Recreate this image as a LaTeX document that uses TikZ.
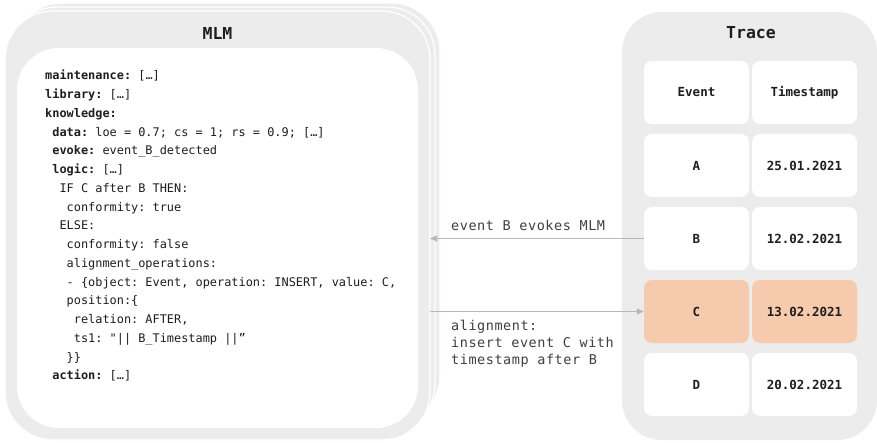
\documentclass[tikz,border=0pt]{standalone}
\usepackage{fontspec}
\usetikzlibrary{arrows.meta}
\newfontfamily\monofont{DejaVu Sans Mono}
\newfontfamily\lblfont[LetterSpace=4]{DejaVu Sans Mono}
\definecolor{boxgray}{HTML}{EBECEB}
\definecolor{cellorange}{HTML}{F6CBAD}
\definecolor{txt}{HTML}{1E1E1E}
\definecolor{arrgray}{HTML}{B8B8B8}
\newcommand\pind[1]{\hspace*{\dimexpr0.602em*#1\relax}}
\frenchspacing
\tikzset{
  stackbox/.style={fill=boxgray, draw=white, line width=1.3pt, rounded corners=48pt},
  cell/.style={fill=white, rounded corners=8pt, minimum width=105pt, minimum height=63pt, inner sep=0pt,
    font=\fontsize{12.5}{14}\selectfont\monofont\bfseries, text=txt},
  hlcell/.style={cell, fill=cellorange},
  title/.style={font=\fontsize{16.5}{18}\selectfont\monofont\bfseries, text=txt, inner sep=0pt},
  arr/.style={draw=arrgray, line width=1.1pt, -{Triangle[length=7pt,width=6pt]}},
  lbl/.style={font=\fontsize{13.5}{17}\selectfont\lblfont\frenchspacing, text=txt!85, inner sep=0pt, align=left}
}
\begin{document}
\begin{tikzpicture}[x=1pt,y=-1pt]
\fill[white] (0,0) rectangle (877,443);
\useasboundingbox (0,0) rectangle (877,443);
% MLM stack
\draw[stackbox] (13,3) rectangle (440,424);
\draw[stackbox] (9,7) rectangle (435,432);
\draw[stackbox] (5,11) rectangle (430,440);
\fill[white, rounded corners=42pt] (17,48) rectangle (418,428);
\node[title] (mlmtitle) at (217.5,33) {MLM};
\node[anchor=north west, inner sep=0pt, align=left, text=txt,
      font=\fontsize{11.9}{18.75}\selectfont\monofont\frenchspacing] (mlmtext) at (45,70) {%
\textbf{maintenance:} […]\\
\textbf{library:} […]\\
\textbf{knowledge:}\\
\pind1\textbf{data:} loe = 0.7; cs = 1; rs = 0.9; […]\\
\pind1\textbf{evoke:} event\_B\_detected\\
\pind1\textbf{logic:} […]\\
\pind2IF C after B THEN:\\
\pind3conformity: true\\
\pind2ELSE:\\
\pind3conformity: false\\
\pind3alignment\_operations:\\
\pind3- \{object: Event, operation: INSERT, value: C,\\
\pind3position:\{\\
\pind4relation: AFTER,\\
\pind4ts1: "|| B\_Timestamp ||”\\
\pind3\}\}\\
\pind1\textbf{action:} […]};
% Trace
\fill[boxgray, rounded corners=40pt] (622,12) rectangle (877,440);
\node[title] (tracetitle) at (751,33) {Trace};
\node[cell] (hE) at (696.5,92.5) {Event};
\node[cell] (hT) at (804.5,92.5) {Timestamp};
\node[cell] (eA) at (696.5,165.5) {A};
\node[cell] (tA) at (804.5,165.5) {25.01.2021};
\node[cell] (eB) at (696.5,238.5) {B};
\node[cell] (tB) at (804.5,238.5) {12.02.2021};
\node[hlcell] (eC) at (696.5,311.5) {C};
\node[hlcell] (tC) at (804.5,311.5) {13.02.2021};
\node[cell] (eD) at (696.5,384.5) {D};
\node[cell] (tD) at (804.5,384.5) {20.02.2021};
% connectors
\coordinate (mlmedge) at (430,0);
\draw[arr] (eB.west) -- (eB.west -| mlmedge);
\draw[arr] (eC.west -| mlmedge) -- (eC.west);
\node[lbl, anchor=base west] (lbl1) at (451,231) {event B evokes MLM};
\node[lbl, anchor=north west] (lbl2) at (451,320) {alignment:\\insert event C with\\timestamp after B};
\end{tikzpicture}
\end{document}
